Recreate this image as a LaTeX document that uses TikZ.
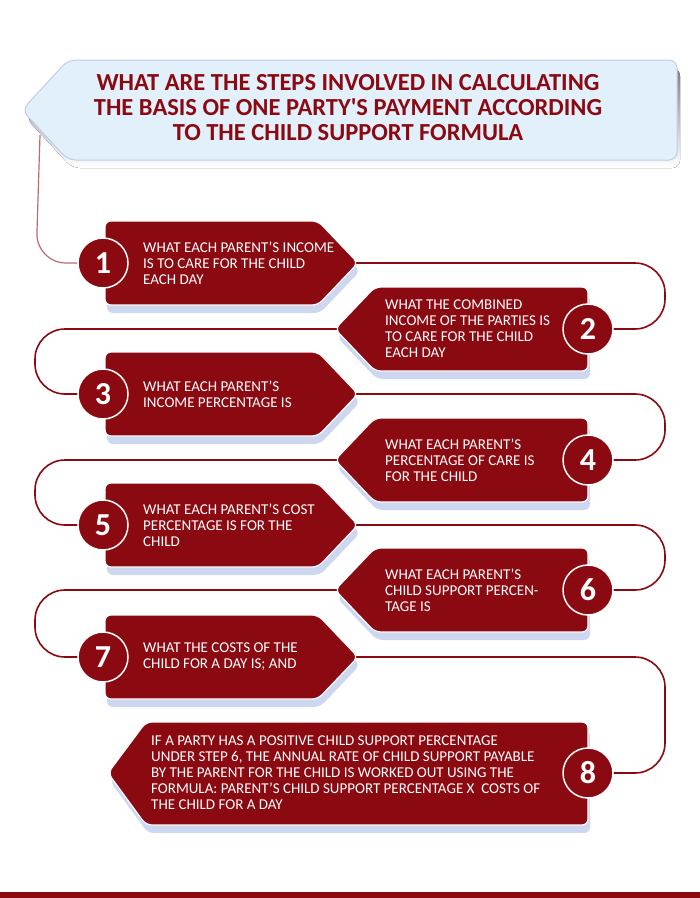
\documentclass[tikz,border=0pt]{standalone}
\usepackage{fontspec}
\setmainfont{Carlito}
\usetikzlibrary{positioning}
\definecolor{wine}{RGB}{139,10,18}
\definecolor{skyfill}{RGB}{226,240,251}
\definecolor{skyline}{RGB}{190,206,232}
\definecolor{shade}{RGB}{205,215,240}
\tikzset{
  stepbox/.style={fill=wine,draw=white,line width=1.2pt,rounded corners=6pt},
  boxshade/.style={fill=shade,rounded corners=6pt},
  numdot/.style={circle,fill=wine,draw=white,line width=1.5pt,minimum size=50pt,
    text=white,font=\bfseries\fontsize{32}{32}\selectfont,inner sep=0pt},
  steptext/.style={anchor=west,text=white,align=left,
    font=\fontsize{15}{16}\selectfont,inner sep=0pt},
  link/.style={draw=wine,line width=1.6pt,rounded corners=30pt}
}
% odd steps: box on the left, tip pointing right
\newcommand{\stepL}[3]{%
  \pgfmathsetmacro{\tp}{#2}\pgfmathsetmacro{\bt}{#2+84}\pgfmathsetmacro{\md}{#2+42}
  \fill[boxshade] (107,\tp+8) -- (320,\tp+8) -- (360,\md+8) -- (320,\bt+8) -- (107,\bt+8) -- cycle;
  \draw[stepbox] (105,\tp) -- (318,\tp) -- (358,\md) -- (318,\bt) -- (105,\bt) -- cycle;
  \coordinate (tip#1) at (358,\md);
  \node[numdot] (num#1) at (103,\md) {#1};
  \node[steptext] (txt#1) at (143,\md) {#3};
}
% even steps: box on the right, tip pointing left
\newcommand{\stepR}[3]{%
  \pgfmathsetmacro{\tp}{#2}\pgfmathsetmacro{\bt}{#2+84}\pgfmathsetmacro{\md}{#2+42}
  \fill[boxshade] (590,\tp+8) -- (377,\tp+8) -- (337,\md+8) -- (377,\bt+8) -- (590,\bt+8) -- cycle;
  \draw[stepbox] (588,\tp) -- (375,\tp) -- (335,\md) -- (375,\bt) -- (588,\bt) -- cycle;
  \coordinate (tip#1) at (335,\md);
  \node[numdot] (num#1) at (588,\md) {#1};
  \node[steptext] (txt#1) at (385,\md) {#3};
}
\begin{document}
\begin{tikzpicture}[x=1pt,y=-1pt]
\useasboundingbox (0,0) rectangle (700,898);
\fill[white] (0,0) rectangle (700,898);
\fill[wine] (0,892) rectangle (700,898);

% title banner
\fill[shade,rounded corners=8pt] (72,68) -- (680,68) -- (680,168) -- (72,168) -- (26,118) -- cycle;
\draw[fill=skyfill,draw=skyline,line width=1pt,rounded corners=8pt]
  (68,60) -- (677,60) -- (677,160) -- (68,160) -- (22,110) -- cycle;
\node[text=wine,align=center,font=\bfseries\fontsize{24.5}{25}\selectfont] (title) at (348,108)
  {WHAT ARE THE STEPS INVOLVED IN CALCULATING\\THE BASIS OF ONE PARTY\textquotesingle S PAYMENT ACCORDING\\TO THE CHILD SUPPORT FORMULA};
\coordinate (start) at (40,135);

% connectors first, boxes drawn over them
\coordinate (a1) at (36,263);
\coordinate (a2) at (665,263); \coordinate (b2) at (665,329);
\coordinate (a3) at (35,329);  \coordinate (b3) at (35,394);
\coordinate (a4) at (665,394); \coordinate (b4) at (665,460);
\coordinate (a5) at (35,460);  \coordinate (b5) at (35,525);
\coordinate (a6) at (665,525); \coordinate (b6) at (665,590);
\coordinate (a7) at (35,590);  \coordinate (b7) at (35,657);
\coordinate (a8) at (665,657); \coordinate (b8) at (665,773);
\draw[link,draw=wine!60,line width=1.2pt] (start) -- (a1) -- (103,263);
\draw[link] (340,263) -- (a2) -- (b2) -- (588,329);
\draw[link] (350,329) -- (a3) -- (b3) -- (103,394);
\draw[link] (340,394) -- (a4) -- (b4) -- (588,460);
\draw[link] (350,460) -- (a5) -- (b5) -- (103,525);
\draw[link] (340,525) -- (a6) -- (b6) -- (588,590);
\draw[link] (350,590) -- (a7) -- (b7) -- (103,657);
\draw[link] (340,657) -- (a8) -- (b8) -- (588,773);

\stepL{1}{221}{WHAT EACH PARENT’S INCOME\\IS TO CARE FOR THE CHILD\\EACH DAY}
\stepR{2}{287}{WHAT THE COMBINED\\INCOME OF THE PARTIES IS\\TO CARE FOR THE CHILD\\EACH DAY}
\stepL{3}{352}{WHAT EACH PARENT’S\\INCOME PERCENTAGE IS}
\stepR{4}{418}{WHAT EACH PARENT’S\\PERCENTAGE OF CARE IS\\FOR THE CHILD}
\stepL{5}{483}{WHAT EACH PARENT’S COST\\PERCENTAGE IS FOR THE\\CHILD}
\stepR{6}{548}{WHAT EACH PARENT’S\\CHILD SUPPORT PERCEN-\\TAGE IS}
\stepL{7}{615}{WHAT THE COSTS OF THE\\CHILD FOR A DAY IS; AND}

% last step is wider and taller
\fill[boxshade] (590,730) -- (148,730) -- (110,781) -- (148,833) -- (590,833) -- cycle;
\draw[stepbox] (588,722) -- (146,722) -- (108,773) -- (146,825) -- (588,825) -- cycle;
\node[numdot] (num8) at (588,773) {8};
\node[steptext] (txt8) at (151,773) {IF A PARTY HAS A POSITIVE CHILD SUPPORT PERCENTAGE\\UNDER STEP 6, THE ANNUAL RATE OF CHILD SUPPORT PAYABLE\\BY THE PARENT FOR THE CHILD IS WORKED OUT USING THE\\FORMULA: PARENT’S CHILD SUPPORT PERCENTAGE X\ \ COSTS OF\\THE CHILD FOR A DAY};
\end{tikzpicture}
\end{document}
